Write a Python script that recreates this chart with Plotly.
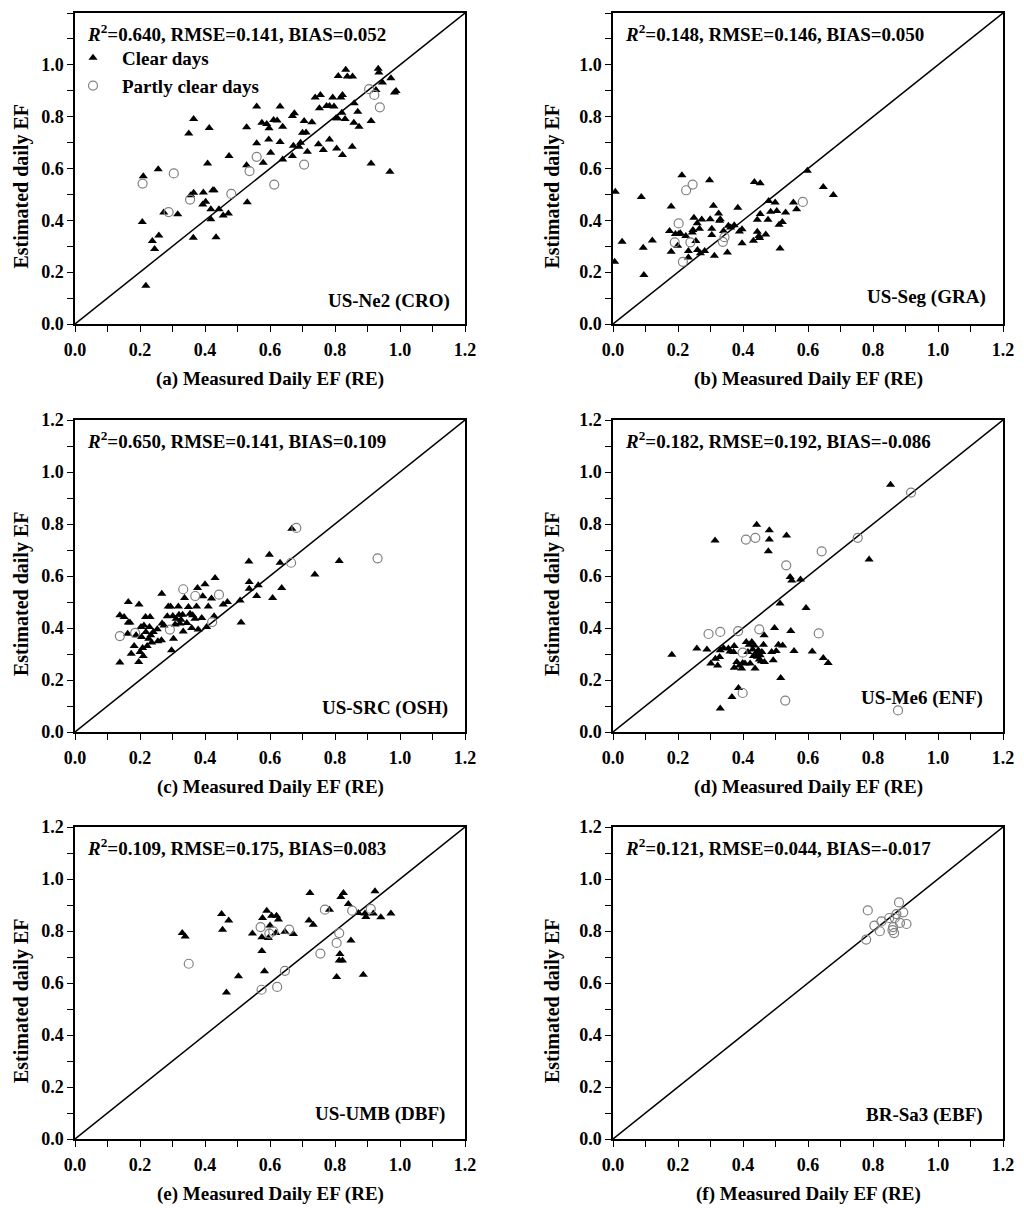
import plotly.graph_objects as go
from plotly.subplots import make_subplots

# (a) US-Ne2 (CRO)
ne2_clear_x = [0.210, 0.207, 0.218, 0.238, 0.245, 0.258, 0.256, 0.273, 0.316, 0.350, 0.365, 0.356, 0.365,
               0.395, 0.393, 0.402, 0.364, 0.408, 0.413, 0.418, 0.418, 0.424, 0.428, 0.434, 0.443, 0.456,
               0.472, 0.474, 0.528, 0.530, 0.528, 0.559, 0.559, 0.575, 0.579, 0.590, 0.597, 0.596, 0.602,
               0.611, 0.622, 0.631, 0.631, 0.639, 0.639, 0.669, 0.675, 0.672, 0.669, 0.689, 0.694, 0.700,
               0.705, 0.711, 0.715, 0.729, 0.739, 0.755, 0.752, 0.749, 0.764, 0.774, 0.783, 0.783, 0.793,
               0.797, 0.803, 0.810, 0.808, 0.805, 0.818, 0.823, 0.821, 0.823, 0.831, 0.833, 0.838, 0.854,
               0.853, 0.859, 0.858, 0.870, 0.874, 0.911, 0.911, 0.926, 0.933, 0.935, 0.946, 0.969, 0.972,
               0.983, 0.988]
ne2_clear_y = [0.570, 0.394, 0.148, 0.320, 0.289, 0.341, 0.597, 0.430, 0.423, 0.735, 0.791, 0.497, 0.506,
               0.507, 0.461, 0.472, 0.333, 0.619, 0.756, 0.443, 0.404, 0.516, 0.516, 0.335, 0.443, 0.419,
               0.426, 0.648, 0.759, 0.470, 0.613, 0.839, 0.697, 0.777, 0.622, 0.772, 0.755, 0.712, 0.661,
               0.787, 0.785, 0.839, 0.702, 0.761, 0.635, 0.803, 0.813, 0.688, 0.648, 0.684, 0.699, 0.738,
               0.783, 0.739, 0.665, 0.778, 0.874, 0.884, 0.832, 0.694, 0.671, 0.841, 0.841, 0.712, 0.874,
               0.839, 0.794, 0.957, 0.794, 0.677, 0.874, 0.884, 0.815, 0.652, 0.791, 0.981, 0.955, 0.955,
               0.684, 0.852, 0.777, 0.819, 0.761, 0.619, 0.783, 0.903, 0.985, 0.970, 0.932, 0.587, 0.948,
               0.893, 0.899]
ne2_partly_x = [0.208, 0.288, 0.304, 0.354, 0.481, 0.537, 0.559, 0.613, 0.705, 0.905, 0.921, 0.938]
ne2_partly_y = [0.542, 0.432, 0.581, 0.480, 0.502, 0.590, 0.645, 0.538, 0.615, 0.906, 0.884, 0.836]

# (b) US-Seg (GRA)
seg_clear_x = [0.007, 0.005, 0.028, 0.087, 0.093, 0.095, 0.121, 0.179, 0.174, 0.179, 0.192, 0.199, 0.202,
               0.207, 0.212, 0.224, 0.232, 0.232, 0.244, 0.246, 0.249, 0.255, 0.259, 0.260, 0.266, 0.269,
               0.273, 0.282, 0.297, 0.299, 0.304, 0.304, 0.309, 0.312, 0.325, 0.330, 0.328, 0.340, 0.352,
               0.355, 0.362, 0.373, 0.384, 0.389, 0.397, 0.397, 0.432, 0.435, 0.444, 0.444, 0.449, 0.451,
               0.453, 0.453, 0.470, 0.477, 0.479, 0.485, 0.499, 0.504, 0.511, 0.514, 0.521, 0.531, 0.555,
               0.565, 0.598, 0.647, 0.678]
seg_clear_y = [0.510, 0.240, 0.317, 0.490, 0.294, 0.189, 0.322, 0.453, 0.359, 0.279, 0.347, 0.302, 0.347,
               0.350, 0.574, 0.340, 0.282, 0.257, 0.353, 0.363, 0.410, 0.320, 0.389, 0.286, 0.368, 0.273,
               0.403, 0.282, 0.555, 0.404, 0.368, 0.343, 0.456, 0.263, 0.426, 0.404, 0.398, 0.359, 0.276,
               0.379, 0.372, 0.381, 0.449, 0.357, 0.366, 0.312, 0.321, 0.548, 0.402, 0.356, 0.340, 0.332,
               0.543, 0.424, 0.345, 0.402, 0.475, 0.433, 0.469, 0.436, 0.383, 0.291, 0.394, 0.430, 0.469,
               0.443, 0.591, 0.529, 0.498]
seg_partly_x = [0.202, 0.190, 0.215, 0.238, 0.225, 0.245, 0.338, 0.343, 0.584]
seg_partly_y = [0.388, 0.315, 0.240, 0.315, 0.516, 0.538, 0.317, 0.335, 0.471]

# (c) US-SRC (OSH)
src_clear_x = [0.138, 0.138, 0.151, 0.164, 0.164, 0.169, 0.162, 0.173, 0.182, 0.188, 0.197, 0.196, 0.200,
               0.203, 0.205, 0.208, 0.210, 0.212, 0.217, 0.218, 0.222, 0.227, 0.229, 0.231, 0.233, 0.236,
               0.241, 0.253, 0.255, 0.266, 0.267, 0.268, 0.274, 0.284, 0.287, 0.294, 0.297, 0.303, 0.301,
               0.308, 0.311, 0.318, 0.320, 0.323, 0.326, 0.331, 0.333, 0.337, 0.344, 0.349, 0.354, 0.359,
               0.362, 0.369, 0.374, 0.377, 0.379, 0.390, 0.393, 0.400, 0.410, 0.405, 0.420, 0.428, 0.431,
               0.456, 0.469, 0.508, 0.511, 0.535, 0.536, 0.536, 0.559, 0.564, 0.598, 0.608, 0.631, 0.636,
               0.667, 0.738, 0.813]
src_clear_y = [0.267, 0.449, 0.442, 0.500, 0.421, 0.421, 0.378, 0.301, 0.331, 0.372, 0.490, 0.269, 0.308,
               0.404, 0.365, 0.323, 0.292, 0.410, 0.442, 0.385, 0.331, 0.359, 0.404, 0.442, 0.372, 0.344,
               0.385, 0.395, 0.349, 0.353, 0.532, 0.417, 0.410, 0.445, 0.483, 0.483, 0.314, 0.359, 0.446,
               0.413, 0.436, 0.483, 0.451, 0.417, 0.432, 0.451, 0.387, 0.515, 0.419, 0.481, 0.455, 0.400,
               0.449, 0.436, 0.483, 0.554, 0.394, 0.438, 0.522, 0.568, 0.483, 0.404, 0.513, 0.445, 0.592,
               0.490, 0.500, 0.506, 0.421, 0.656, 0.577, 0.551, 0.523, 0.564, 0.682, 0.515, 0.651, 0.554,
               0.782, 0.606, 0.658]
src_partly_x = [0.138, 0.185, 0.292, 0.333, 0.370, 0.443, 0.422, 0.665, 0.681, 0.931]
src_partly_y = [0.369, 0.381, 0.394, 0.549, 0.523, 0.528, 0.423, 0.651, 0.785, 0.668]

# (d) US-Me6 (ENF)
me6_clear_x = [0.181, 0.258, 0.289, 0.301, 0.315, 0.322, 0.314, 0.328, 0.330, 0.330, 0.340, 0.355, 0.360,
               0.366, 0.371, 0.373, 0.373, 0.381, 0.386, 0.389, 0.396, 0.399, 0.406, 0.410, 0.415, 0.419,
               0.422, 0.427, 0.430, 0.432, 0.435, 0.437, 0.440, 0.442, 0.444, 0.447, 0.450, 0.453, 0.456,
               0.458, 0.463, 0.465, 0.466, 0.481, 0.481, 0.478, 0.488, 0.493, 0.497, 0.502, 0.509, 0.514,
               0.516, 0.522, 0.534, 0.545, 0.550, 0.547, 0.557, 0.577, 0.594, 0.613, 0.647, 0.662, 0.788,
               0.854]
me6_clear_y = [0.297, 0.321, 0.317, 0.263, 0.282, 0.256, 0.737, 0.288, 0.314, 0.090, 0.323, 0.321, 0.310,
               0.135, 0.308, 0.331, 0.247, 0.269, 0.169, 0.256, 0.244, 0.265, 0.263, 0.346, 0.308, 0.336,
               0.263, 0.346, 0.317, 0.292, 0.333, 0.244, 0.304, 0.797, 0.289, 0.314, 0.279, 0.295, 0.272,
               0.308, 0.336, 0.372, 0.269, 0.776, 0.740, 0.695, 0.308, 0.276, 0.400, 0.312, 0.336, 0.494,
               0.208, 0.333, 0.756, 0.596, 0.583, 0.388, 0.312, 0.587, 0.477, 0.310, 0.285, 0.265, 0.663,
               0.951]
me6_partly_x = [0.294, 0.330, 0.385, 0.399, 0.399, 0.409, 0.438, 0.450, 0.533, 0.530, 0.633, 0.642, 0.753,
                0.917, 0.877]
me6_partly_y = [0.377, 0.385, 0.388, 0.305, 0.150, 0.740, 0.747, 0.395, 0.641, 0.121, 0.379, 0.695, 0.747,
                0.921, 0.083]

# (e) US-UMB (DBF)
umb_clear_x = [0.330, 0.339, 0.451, 0.454, 0.473, 0.466, 0.503, 0.546, 0.575, 0.575, 0.583, 0.577, 0.590,
               0.595, 0.600, 0.605, 0.618, 0.620, 0.626, 0.646, 0.672, 0.720, 0.723, 0.733, 0.783, 0.805,
               0.815, 0.813, 0.823, 0.818, 0.826, 0.841, 0.849, 0.872, 0.887, 0.892, 0.895, 0.923, 0.918,
               0.941, 0.972]
umb_clear_y = [0.792, 0.779, 0.865, 0.805, 0.840, 0.563, 0.626, 0.790, 0.776, 0.723, 0.645, 0.850, 0.878,
               0.773, 0.821, 0.859, 0.792, 0.859, 0.844, 0.797, 0.788, 0.840, 0.946, 0.824, 0.882, 0.623,
               0.712, 0.687, 0.687, 0.931, 0.946, 0.904, 0.763, 0.869, 0.632, 0.867, 0.854, 0.953, 0.867,
               0.853, 0.867]
umb_partly_x = [0.350, 0.571, 0.598, 0.610, 0.659, 0.574, 0.622, 0.646, 0.755, 0.769, 0.805, 0.813, 0.853,
                0.910]
umb_partly_y = [0.674, 0.815, 0.790, 0.799, 0.805, 0.574, 0.585, 0.647, 0.713, 0.882, 0.754, 0.792, 0.878,
                0.885]

# (f) BR-Sa3 (EBF)
sa3_clear_x = []
sa3_clear_y = []
sa3_partly_x = [0.784, 0.779, 0.804, 0.821, 0.826, 0.850, 0.862, 0.860, 0.865, 0.867, 0.872, 0.880, 0.883,
                0.893, 0.903]
sa3_partly_y = [0.879, 0.767, 0.821, 0.799, 0.837, 0.850, 0.815, 0.803, 0.792, 0.850, 0.865, 0.910, 0.831,
                0.872, 0.827]

site_labels = ["US-Ne2 (CRO)", "US-Seg (GRA)", "US-SRC (OSH)", "US-Me6 (ENF)", "US-UMB (DBF)", "BR-Sa3 (EBF)"]
x_titles = ["(a) Measured Daily EF (RE)", "(b) Measured Daily EF (RE)", "(c) Measured Daily EF (RE)",
            "(d) Measured Daily EF (RE)", "(e) Measured Daily EF (RE)", "(f) Measured Daily EF (RE)"]
stats_text = ["0.640, RMSE=0.141, BIAS=0.052", "0.148, RMSE=0.146, BIAS=0.050",
              "0.650, RMSE=0.141, BIAS=0.109", "0.182, RMSE=0.192, BIAS=-0.086",
              "0.109, RMSE=0.175, BIAS=0.083", "0.121, RMSE=0.044, BIAS=-0.017"]
y_title = "Estimated daily EF"
tick_vals = [0.0, 0.2, 0.4, 0.6, 0.8, 1.0, 1.2]
tick_text = ["0.0", "0.2", "0.4", "0.6", "0.8", "1.0", "1.2"]

data = [
    (ne2_clear_x, ne2_clear_y, ne2_partly_x, ne2_partly_y),
    (seg_clear_x, seg_clear_y, seg_partly_x, seg_partly_y),
    (src_clear_x, src_clear_y, src_partly_x, src_partly_y),
    (me6_clear_x, me6_clear_y, me6_partly_x, me6_partly_y),
    (umb_clear_x, umb_clear_y, umb_partly_x, umb_partly_y),
    (sa3_clear_x, sa3_clear_y, sa3_partly_x, sa3_partly_y),
]

# page body has an 8px margin, so the figure is drawn 8px in from the window corner
OFF = 8
W, H = 1024 - OFF, 1208 - OFF
FONT = "Liberation Serif"
# plot boxes in window pixels (left, right) / (top, bottom)
col_px = [(75, 465), (613, 1003)]
row_px = [(13, 324), (420, 732), (827, 1139)]
ytitle_px = [21, 552]
# site label anchor inside each panel (x, y in axis-domain fractions)
site_pos = [(0.967, 0.074), (0.962, 0.087), (0.962, 0.077), (0.954, 0.109), (0.954, 0.080), (0.954, 0.077)]

fig = make_subplots(rows=3, cols=2)

for i, (cx, cy, px, py) in enumerate(data):
    r, c = i // 2 + 1, i % 2 + 1
    first = (i == 0)
    fig.add_trace(go.Scatter(x=[0, 1.2], y=[0, 1.2], mode="lines", line=dict(color="black", width=1.5),
                             showlegend=False, hoverinfo="skip"), row=r, col=c)
    fig.add_trace(go.Scatter(x=cx, y=cy, mode="markers", name="Clear days", showlegend=first,
                             marker=dict(symbol="triangle-up", size=8, color="black")), row=r, col=c)
    fig.add_trace(go.Scatter(x=px, y=py, mode="markers", name="Partly clear days", showlegend=first,
                             marker=dict(symbol="circle-open", size=9, color="#808080",
                                         line=dict(width=1.2, color="#808080"))), row=r, col=c)

    l, rr = [v - OFF for v in col_px[c - 1]]
    t, b = [v - OFF for v in row_px[r - 1]]
    fig.update_xaxes(domain=[l / W, rr / W], row=r, col=c)
    fig.update_yaxes(domain=[1 - b / H, 1 - t / H], row=r, col=c)

    xn = "x" if i == 0 else "x%d" % (i + 1)
    yn = "y" if i == 0 else "y%d" % (i + 1)
    fig.add_annotation(xref=xn + " domain", yref=yn + " domain", x=0.026, y=0.937, xanchor="left",
                       yanchor="middle", showarrow=False,
                       text="<b><i>R</i><sup>2</sup>=" + stats_text[i] + "</b>",
                       font=dict(family=FONT, size=19, color="black"))
    sx, sy = site_pos[i]
    fig.add_annotation(xref=xn + " domain", yref=yn + " domain", x=sx, y=sy, xanchor="right",
                       yanchor="middle", showarrow=False, text="<b>" + site_labels[i] + "</b>",
                       font=dict(family=FONT, size=19, color="black"))
    fig.add_annotation(xref="paper", yref="paper", x=(l + rr) / 2 / W, y=1 - (b + 55) / H,
                       xanchor="center", yanchor="middle", showarrow=False, text="<b>" + x_titles[i] + "</b>",
                       font=dict(family=FONT, size=19, color="black"))
    ytx = ytitle_px[c - 1] - OFF
    fig.add_annotation(xref="paper", yref="paper", x=ytx / W, y=1 - ((t + b) / 2 + 18) / H,
                       xanchor="center", yanchor="middle", showarrow=False, textangle=-90, borderpad=0,
                       text="<b>" + y_title + "</b>", font=dict(family=FONT, size=20, color="black"))

axis_style = dict(range=[0, 1.2], tickvals=tick_vals, ticktext=tick_text, ticks="outside", ticklen=6,
                  tickwidth=1, tickcolor="black", showline=True, linecolor="black", linewidth=1.5,
                  mirror=True, showgrid=False, zeroline=False, automargin=False,
                  tickfont=dict(family=FONT, size=18, color="black", weight="bold"),
                  minor=dict(dtick=0.1, tick0=0, ticks="outside", ticklen=6, tickwidth=1, tickcolor="black",
                             showgrid=False))
fig.update_xaxes(**axis_style)
fig.update_yaxes(**axis_style)
fig.update_xaxes(ticklabelstandoff=3)

fig.update_layout(
    width=W, height=H, margin=dict(l=0, r=0, t=0, b=0),
    plot_bgcolor="white", paper_bgcolor="white",
    legend=dict(x=(64 - OFF) / W, y=1 - (39 - OFF) / H, xanchor="left", yanchor="top",
                bgcolor="rgba(0,0,0,0)", itemwidth=48, tracegroupgap=0,
                font=dict(family=FONT, size=19, color="black", weight="bold")),
)

fig.write_html("out.html")
